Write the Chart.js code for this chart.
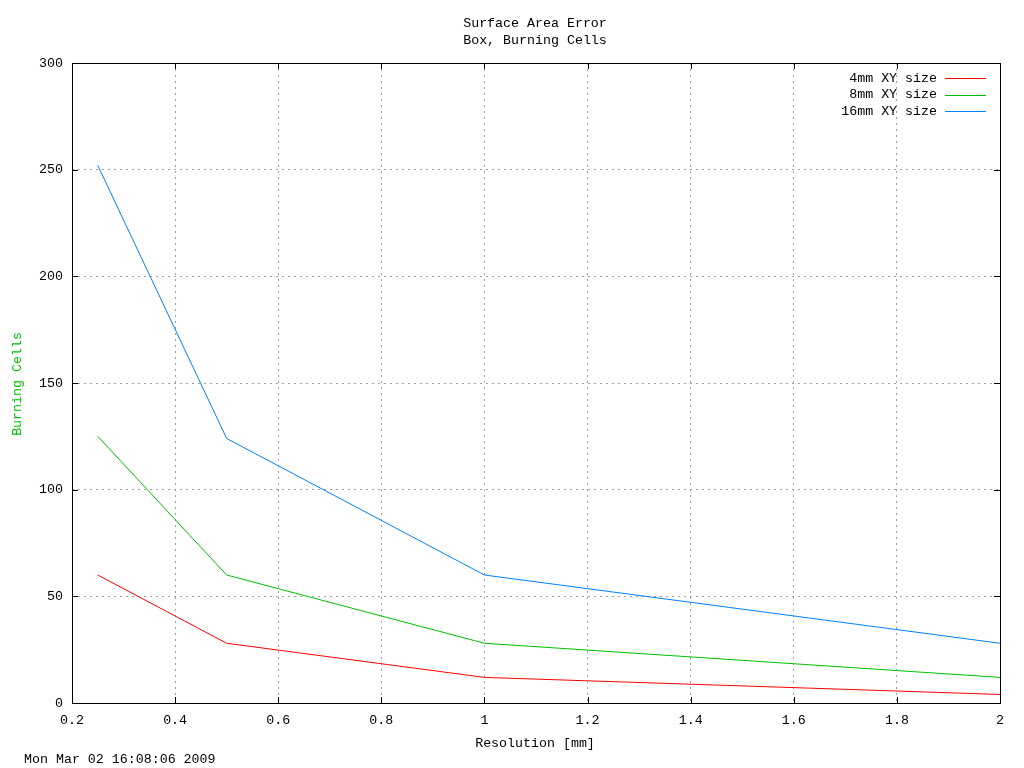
<!DOCTYPE html>
<html><head><meta charset="utf-8">
<script src="https://cdn.jsdelivr.net/npm/chart.js@4"></script>
<style>html,body{margin:0;padding:0;background:#fff}canvas{display:block}</style>
</head><body>
<canvas id="c" width="1024" height="768"></canvas>
<script>
const resolution = [0.25, 0.5, 1, 2];
const size4mm = [60, 28, 12, 4];
const size8mm = [125, 60, 28, 12];
const size16mm = [252, 124, 60, 28];
const seriesNames = ['4mm XY size', '8mm XY size', '16mm XY size'];
const seriesColors = ['#ff0000', '#00c000', '#0080ff'];
const titleLines = ['Surface Area Error', 'Box, Burning Cells'];
const xTitle = 'Resolution [mm]';
const yTitle = 'Burning Cells';
const dateText = 'Mon Mar 02 16:08:06 2009';
const FAMILY = '"Liberation Mono", "DejaVu Sans Mono", monospace';
const FONT = '13.3px ' + FAMILY;

function pts(ys){ return resolution.map((x,i)=>({x:x,y:ys[i]})); }

const deco = {
  id:'deco',
  afterDraw(chart){
    const ctx = chart.ctx, a = chart.chartArea;
    const xs = chart.scales.x, ys = chart.scales.y;
    ctx.save();
    ctx.setLineDash([]);
    ctx.strokeStyle = '#000'; ctx.lineWidth = 1;
    ctx.beginPath();
    xs.ticks.forEach(t=>{ const p = Math.round(xs.getPixelForValue(t.value))+0.5;
      ctx.moveTo(p, a.bottom); ctx.lineTo(p, a.bottom-6);
      ctx.moveTo(p, a.top); ctx.lineTo(p, a.top+6); });
    ys.ticks.forEach(t=>{ const p = Math.round(ys.getPixelForValue(t.value))+0.5;
      ctx.moveTo(a.left, p); ctx.lineTo(a.left+6, p);
      ctx.moveTo(a.right, p); ctx.lineTo(a.right-6, p); });
    ctx.stroke();
    ctx.strokeRect(Math.round(a.left)+0.5, Math.round(a.top)+0.5, Math.round(a.right-a.left), Math.round(a.bottom-a.top));
    ctx.font = FONT; ctx.fillStyle = '#000';
    ctx.textAlign = 'center'; ctx.textBaseline = 'middle';
    ctx.fillText(titleLines[0], 535, 23);
    ctx.fillText(titleLines[1], 535, 40);
    ctx.fillText(xTitle, 535, 743);
    ctx.textAlign = 'left';
    ctx.fillText(dateText, 24, 759);
    seriesNames.forEach((name,i)=>{
      const y = 78 + i*16.5;
      ctx.textAlign = 'right'; ctx.fillStyle = '#000';
      ctx.fillText(name, 937, y);
      ctx.fillStyle = seriesColors[i];
      ctx.fillRect(945, Math.round(y), 41, 1);
    });
    ctx.save(); ctx.translate(17, 384); ctx.rotate(-Math.PI/2);
    ctx.textAlign = 'center'; ctx.fillStyle = '#00c000';
    ctx.fillText(yTitle, 0, 0); ctx.restore();
    ctx.restore();
  }
};

new Chart(document.getElementById('c'), {
  type:'line',
  data:{ datasets:[
    {label:seriesNames[0], data:pts(size4mm), borderColor:seriesColors[0]},
    {label:seriesNames[1], data:pts(size8mm), borderColor:seriesColors[1]},
    {label:seriesNames[2], data:pts(size16mm), borderColor:seriesColors[2]}
  ].map(d=>Object.assign(d,{borderWidth:1, pointRadius:0, tension:0, fill:false}))},
  options:{
    responsive:false, animation:false, devicePixelRatio:1,
    layout:{padding:{left:0,right:24,top:63,bottom:0}},
    plugins:{legend:{display:false}, title:{display:false}, tooltip:{enabled:false}},
    scales:{
      x:{type:'linear', min:0.2, max:2,
        border:{display:false, dash:[2,4]},
        grid:{color:'#a0a0a0', lineWidth:1, drawTicks:false},
        ticks:{stepSize:0.2, padding:9, color:'#000', font:{family:FAMILY, size:13.3}, maxRotation:0,
          callback:v=>{ const r=Math.round(v*10)/10; return r===2?'2':(r===1?'1':r.toFixed(1)); }},
        afterFit:s=>{s.height=65;}},
      y:{min:0, max:300,
        border:{display:false, dash:[2,4]},
        grid:{color:'#a0a0a0', lineWidth:1, drawTicks:false},
        ticks:{stepSize:50, padding:9, color:'#000', font:{family:FAMILY, size:13.3}},
        afterFit:s=>{s.width=72;}}
    }
  },
  plugins:[deco]
});
</script>
</body></html>
